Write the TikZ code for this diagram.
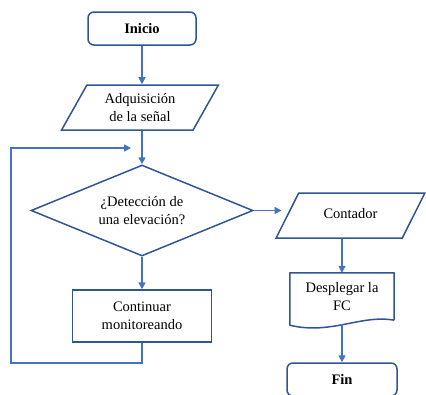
\documentclass[tikz,border=0pt]{standalone}
\usepackage{fontspec}
\setmainfont{Liberation Serif}
\usepackage{tikz}
\usetikzlibrary{shapes.geometric,arrows.meta,positioning}
\definecolor{borde}{HTML}{2F5597}
\definecolor{flecha}{HTML}{4472C4}

\begin{document}
\begin{tikzpicture}[x=1pt,y=-1pt,font=\fontsize{14.5}{18}\selectfont]
  \useasboundingbox (0,0) rectangle (426,394);
  \tikzstyle{caja}=[draw=borde,line width=1.5pt,align=center,inner sep=2pt]
  \tikzstyle{terminal}=[caja,rounded corners=6pt,minimum width=108pt,minimum height=33pt,font=\fontsize{14.5}{18}\selectfont\bfseries]
  \tikzstyle{datos}=[caja,trapezium,trapezium stretches=true,minimum height=45pt]
  \tikzstyle{flujo}=[draw=flecha,line width=1.6pt,-{Triangle[length=7pt,width=7pt]}]
  % bloques
  \node[terminal] (inicio) at (142,28.5) {Inicio};
  \node[datos,trapezium left angle=61,trapezium right angle=119,minimum width=157pt] (adquisicion) at (140,107.5) {Adquisición\\de la señal};
  \node[caja,diamond,aspect=2.44,minimum width=222pt,minimum height=91pt,inner sep=0pt] (deteccion) at (142,210.5) {¿Detección de\\una elevación?};
  \node[caja,minimum width=139pt,minimum height=52pt] (continuar) at (142,316) {Continuar\\monitoreando};
  \node[datos,trapezium left angle=55,trapezium right angle=125,minimum width=149pt] (contador) at (350.5,215.5) {\raisebox{4pt}{Contador}};
  \node[align=center,minimum width=104pt,minimum height=47pt,inner sep=2pt] (desplegar) at (342,296.5) {Desplegar la\\FC};
  \draw[borde,line width=1.5pt,line join=round] (desplegar.south east) -- (desplegar.north east) -- (desplegar.north west)
    -- ([yshift=-5pt]desplegar.south west) .. controls +(41,10) and +(-33,-6) .. (desplegar.south east);
  \node[terminal,minimum width=110pt] (fin) at (342,379.5) {Fin};
  % retorno
  \coordinate (esquina) at (11,363);
  \coordinate (retorno) at (131,148);
  % conectores
  \draw[flujo] (inicio) -- (inicio |- adquisicion.north);
  \draw[flujo] (adquisicion.south -| deteccion.north) -- (deteccion);
  \draw[flujo] (deteccion) -- (continuar);
  \draw[flujo] (continuar.south) |- (esquina) |- (retorno);
  \draw[flujo,shorten >=5pt] (deteccion.east) -- (deteccion.east -| contador.west);
  \draw[flujo] (contador.south -| desplegar.north) -- (desplegar.north);
  \draw[flujo,shorten <=4pt] (desplegar.south) -- (fin);
\end{tikzpicture}
\end{document}
